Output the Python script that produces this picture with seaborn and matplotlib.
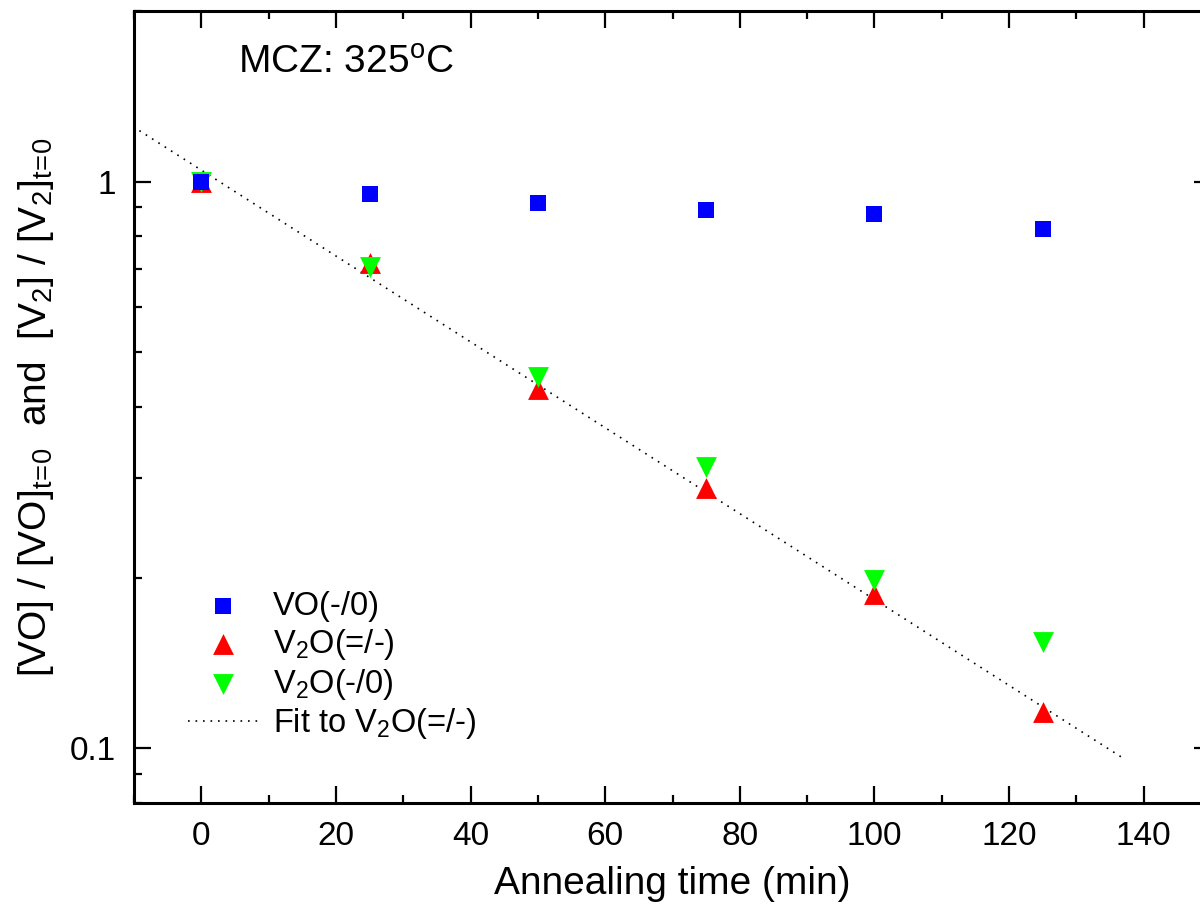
import numpy as np
import pandas as pd
import matplotlib
matplotlib.use("Agg")
import matplotlib.pyplot as plt
import matplotlib.ticker as mticker
import seaborn as sns

# ---- data ----
times = [0, 25, 50, 75, 100, 125]
vo_vals = [1.0, 0.952, 0.915, 0.889, 0.875, 0.826]
v2o_mm_vals = [1.0, 0.718, 0.431, 0.288, 0.187, 0.116]   # V2O(=/-)
v2o_m0_vals = [1.0, 0.706, 0.452, 0.314, 0.198, 0.154]   # V2O(-/0)
fit_t = [-9.2, 136.7]
fit_y = [1.23, 0.0964]

x_ticks = [0, 20, 40, 60, 80, 100, 120, 140]
y_ticks = [0.1, 1]
y_tick_labels = ["0.1", "1"]

sns.set_style("ticks")
plt.rcParams["font.family"] = ["Liberation Sans", "DejaVu Sans"]
plt.rcParams["mathtext.fontset"] = "custom"
plt.rcParams["mathtext.rm"] = "Liberation Sans"
plt.rcParams["mathtext.it"] = "Liberation Sans:italic"
plt.rcParams["mathtext.bf"] = "Liberation Sans:bold"
plt.rcParams["text.color"] = "black"
plt.rcParams["axes.labelcolor"] = "black"
plt.rcParams["xtick.color"] = "black"
plt.rcParams["ytick.color"] = "black"

fig = plt.figure(figsize=(12, 9.15), dpi=100)
ax = fig.add_axes([134 / 1200, 1 - 803 / 915, 1077 / 1200, 792 / 915])

df = pd.DataFrame({"t": times, "vo": vo_vals, "mm": v2o_mm_vals, "m0": v2o_m0_vals})

sns.lineplot(x=fit_t, y=fit_y, ax=ax, color="black", lw=1.2,
             linestyle=(0, (1, 3.5)), label="Fit to V$_2$O(=/-)", zorder=1)
sns.scatterplot(data=df, x="t", y="mm", ax=ax, marker="^", s=225, color="#ff0000",
                linewidth=0, label="V$_2$O(=/-)", zorder=3)
sns.scatterplot(data=df, x="t", y="m0", ax=ax, marker="v", s=225, color="#00ff00",
                linewidth=0, label="V$_2$O(-/0)", zorder=4)
sns.scatterplot(data=df, x="t", y="vo", ax=ax, marker="s", s=132, color="#0000ff",
                linewidth=0, label="VO(-/0)", zorder=5)

ax.set_yscale("log")
ax.set_xlim(-10, 150)
ax.set_ylim(0.08, 2.0)

ax.set_xticks(x_ticks)
ax.xaxis.set_minor_locator(mticker.MultipleLocator(10))
ax.set_yticks(y_ticks)
ax.set_yticklabels(y_tick_labels)
ax.yaxis.set_minor_locator(mticker.LogLocator(base=10, subs=np.arange(2, 10)))
ax.yaxis.set_minor_formatter(mticker.NullFormatter())

for s in ax.spines.values():
    s.set_linewidth(2.2)
    s.set_color("black")
ax.tick_params(which="both", direction="in", top=True, right=True, colors="black",
               labelcolor="black")
ax.tick_params(which="major", length=12, width=1.6, labelsize=24, pad=13)
ax.tick_params(which="minor", length=6, width=1.6)

ax.set_xlabel("Annealing time (min)", fontsize=28, labelpad=10, color="black")
ax.set_ylabel("[VO] / [VO]$_{\\mathregular{t\\!=\\!0}}$  and  [V$_2$] / [V$_2$]$_{\\mathregular{t\\!=\\!0}}$",
              fontsize=28, labelpad=10, color="black")

ax.text(0.0966, 0.935, "MCZ: 325$^{\\mathregular{o}}$C", transform=ax.transAxes,
        fontsize=28, ha="left", va="center", color="black")

h, l = ax.get_legend_handles_labels()
order = [l.index("VO(-/0)"), l.index("V$_2$O(=/-)"), l.index("V$_2$O(-/0)"), l.index("Fit to V$_2$O(=/-)")]
leg = ax.legend([h[i] for i in order], [l[i] for i in order], loc="upper left",
                bbox_to_anchor=(0.05, 0.268), frameon=False, fontsize=23.5, borderpad=0,
                borderaxespad=0, handlelength=2.15, handletextpad=0.45, labelspacing=0.15)
for t in leg.get_texts():
    t.set_color("black")

ax.set_facecolor("white")
fig.patch.set_facecolor("white")
fig.savefig("out.png", dpi=100)
